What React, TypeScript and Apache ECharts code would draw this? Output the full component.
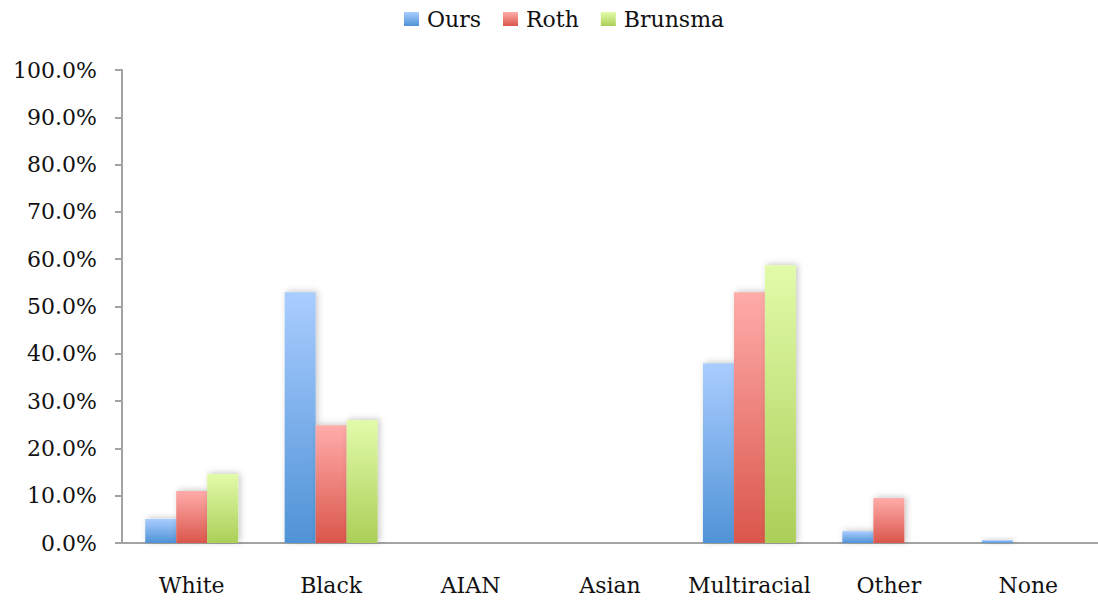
import React, { useEffect, useRef } from "react";
import * as echarts from "echarts";

const categories = ["White", "Black", "AIAN", "Asian", "Multiracial", "Other", "None"];
const seriesNames = ["Ours", "Roth", "Brunsma"];
const oursValues = [5.1, 53.0, 0, 0, 38.0, 2.5, 0.6];
const rothValues = [11.0, 24.9, 0, 0, 53.0, 9.5, 0];
const brunsmaValues = [14.6, 26.0, 0, 0, 58.7, 0, 0];

const palette = [
  { top: "#aacdff", bottom: "#4f93d6" },
  { top: "#ffacaa", bottom: "#da564b" },
  { top: "#e2fbaa", bottom: "#abcf58" },
];

const FONT = "'DejaVu Serif', serif";

export default function App() {
  const ref = useRef<HTMLDivElement>(null);

  useEffect(() => {
    if (!ref.current) return;
    const chart = echarts.init(ref.current, undefined, { renderer: "svg" });
    const allValues = [oursValues, rothValues, brunsmaValues];

    chart.setOption({
      animation: false,
      backgroundColor: "#ffffff",
      textStyle: { fontFamily: FONT },
      legend: {
        top: 3,
        left: 399,
        itemWidth: 15,
        itemHeight: 14,
        itemGap: 22,
        icon: "rect",
        textStyle: {
          fontFamily: FONT,
          fontSize: 22,
          color: "#111",
          padding: [0, 0, 0, 3],
        },
        data: seriesNames.map((name, i) => ({
          name,
          itemStyle: {
            color: new echarts.graphic.LinearGradient(0, 0, 0, 1, [
              { offset: 0, color: palette[i].top },
              { offset: 1, color: palette[i].bottom },
            ]),
          },
        })),
      },
      grid: { left: 122, right: -4, top: 70, bottom: 59, containLabel: false },
      xAxis: {
        type: "category",
        data: categories,
        axisLine: { lineStyle: { color: "#a3a3a3", width: 2 } },
        axisTick: { length: 7, lineStyle: { color: "#a3a3a3", width: 2 } },
        axisLabel: {
          interval: 0,
          fontFamily: FONT,
          fontSize: 22,
          color: "#111",
          margin: 31,
        },
      },
      yAxis: {
        type: "value",
        min: 0,
        max: 100,
        interval: 10,
        splitLine: { show: false },
        axisLine: { show: true, lineStyle: { color: "#a3a3a3", width: 2 } },
        axisTick: { show: true, length: 7, lineStyle: { color: "#a3a3a3", width: 2 } },
        axisLabel: {
          fontFamily: FONT,
          fontSize: 22,
          color: "#111",
          margin: 25,
          formatter: (v: number) => v.toFixed(1) + "%",
        },
      },
      series: seriesNames.map((name, i) => ({
        name,
        type: "bar",
        barWidth: 31,
        barGap: "0%",
        data: allValues[i],
        itemStyle: {
          color: new echarts.graphic.LinearGradient(0, 0, 0, 1, [
            { offset: 0, color: palette[i].top },
            { offset: 1, color: palette[i].bottom },
          ]),
          shadowColor: "rgba(0,0,0,0.22)",
          shadowBlur: 6,
          shadowOffsetX: 2,
          shadowOffsetY: -1,
        },
      })),
    });

    return () => chart.dispose();
  }, []);

  return (
    <div
      ref={ref}
      style={{ position: "fixed", left: 0, top: 0, width: 1098, height: 602 }}
    />
  );
}
